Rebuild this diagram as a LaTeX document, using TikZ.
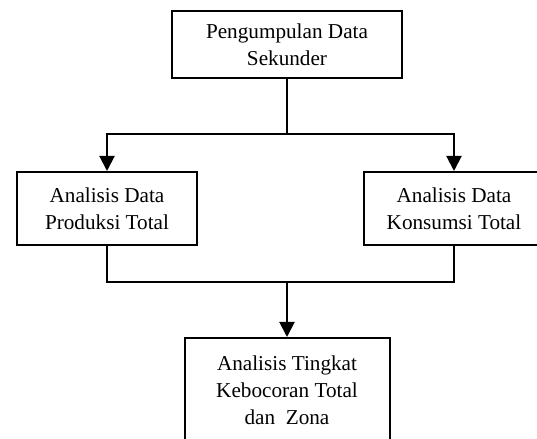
\documentclass[tikz,border=0pt]{standalone}
\usepackage{fontspec}
\setmainfont{Liberation Serif}
\usetikzlibrary{arrows.meta}

\begin{document}
\begin{tikzpicture}[x=0.5pt, y=0.5pt,
    blok/.style={draw, line width=1pt, align=center, inner sep=0pt,
        font=\fontsize{10.6}{13.5}\selectfont},
    panah/.style={line width=1pt, -{Triangle[length=7.5pt, width=7.5pt]}}]
    \def\w{90pt};
    \def\h{36.5pt};
    \useasboundingbox (0,0) rectangle (537,439);
    \clip (0,0) rectangle (537,439);

    \node[blok, minimum width=115pt, minimum height=33.5pt] (data) at (287,394.5) {Pengumpulan Data\\Sekunder};
    \node[blok, minimum width=\w, minimum height=\h] (produksi) at (107,230.5) {Analisis Data\\Produksi Total};
    \node[blok, minimum width=\w, minimum height=\h] (konsumsi) at (454,230.5) {Analisis Data\\Konsumsi Total};
    \node[blok, minimum width=102.5pt, minimum height=52.5pt] (bocor) at (287,48.5) {Analisis Tingkat\\Kebocoran Total\\dan~ Zona};

    \coordinate (j1) at (287,305);
    \coordinate (j2) at (287,157);

    \draw[line width=1pt] (data.south) -- (j1);
    \draw[panah] (j1) -| (produksi.north);
    \draw[panah] (j1) -| (konsumsi.north);

    \draw[line width=1pt] (produksi.south) |- (j2) -| (konsumsi.south);
    \draw[panah] (j2) -- (bocor.north);
\end{tikzpicture}
\end{document}
